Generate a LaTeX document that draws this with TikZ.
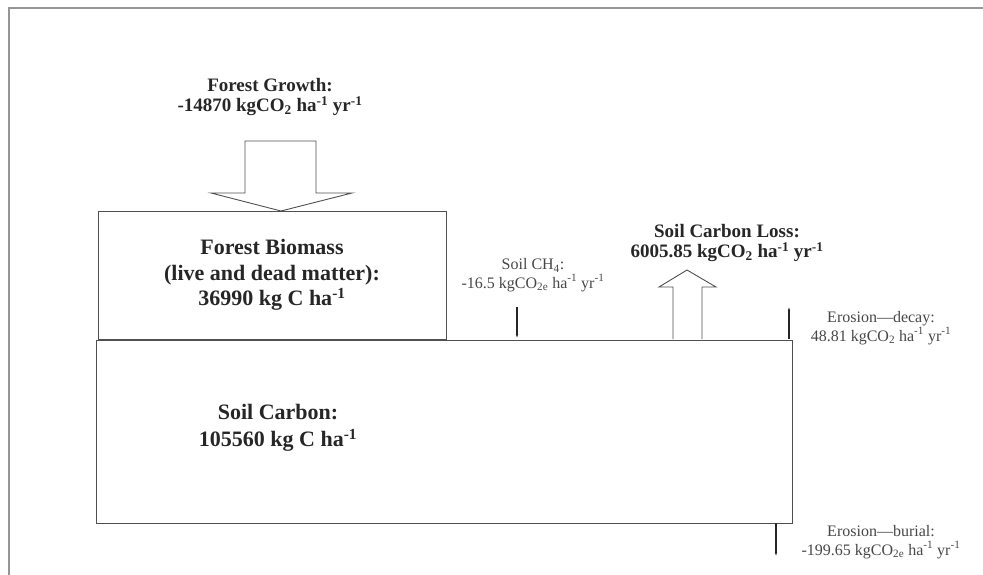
\documentclass[tikz,border=0pt]{standalone}
\usepackage{fontspec}
\setmainfont{Liberation Serif}
\usepackage{tikz}
\usetikzlibrary{positioning,arrows.meta}
\definecolor{Ink}{RGB}{38, 38, 38}
\definecolor{Rule}{RGB}{80, 80, 80}
\definecolor{Frame}{RGB}{150, 150, 150}
\tikzset{
  pool/.style={draw=Rule, line width=0.9pt, inner sep=0pt, text=Ink, align=center},
  bigflux/.style={draw=Rule, line width=0.9pt, fill=white},
  smallflux/.style={draw=Ink, line width=1.1pt, -{Latex[length=6pt,width=2.4pt]}},
  boldlabel/.style={text=Ink, align=center, font=\bfseries\fontsize{19}{20}\selectfont},
  thinlabel/.style={text=Ink!85, align=center, font=\fontsize{16}{18.5}\selectfont},
}

\begin{document}
\begin{tikzpicture}[x=1pt, y=-1pt]
\useasboundingbox (0,0) rectangle (983,575);
\draw[Frame, line width=1.2pt] (9,575) -- (9,8) -- (983,8);

% pools
\node[pool, minimum width=348pt, minimum height=128pt,
      font=\bfseries\fontsize{22}{25.5}\selectfont] (biomass) at (272,275)
  {Forest Biomass\\(live and dead matter):\\36990 kg C ha\textsuperscript{-1}};
\node[pool, minimum width=696pt, minimum height=183pt] (soil) at (444,431.5) {};
\node[text=Ink, align=center, font=\bfseries\fontsize{22}{27}\selectfont] (soiltext) at (278,428)
  {Soil Carbon:\\105560 kg C ha\textsuperscript{-1}};

% forest growth
\node[boldlabel] (growth) at (270,97)
  {Forest Growth:\\-14870 kgCO\textsubscript{2} ha\textsuperscript{-1} yr\textsuperscript{-1}};
\draw[bigflux] (245,141) -- (316,141) -- (316,193) -- (352,193) -- (281,211)
  -- (211,193) -- (245,193) -- cycle;

% soil carbon loss
\node[boldlabel] (loss) at (727,243)
  {Soil Carbon Loss:\\6005.85 kgCO\textsubscript{2} ha\textsuperscript{-1} yr\textsuperscript{-1}};
\draw[bigflux] (673,339) -- (673,287) -- (659,287) -- (687,270) -- (716,287)
  -- (702,287) -- (702,339);

% soil CH4
\node[thinlabel] (ch4) at (533,275)
  {Soil CH\textsubscript{4}:\\-16.5 kgCO\textsubscript{2e} ha\textsuperscript{-1} yr\textsuperscript{-1}};
\coordinate (ch4top) at (517,307);
\coordinate (ch4end) at (517,340);
\draw[smallflux] (ch4top) -- (ch4end);

% erosion
\node[thinlabel] (decay) at (881,328)
  {Erosion---decay:\\48.81 kgCO\textsubscript{2} ha\textsuperscript{-1} yr\textsuperscript{-1}};
\coordinate (decayfoot) at (789,339);
\coordinate (decaytop) at (789,305);
\draw[smallflux] (decayfoot) -- (decaytop);

\node[thinlabel] (burial) at (881,542)
  {Erosion---burial:\\-199.65 kgCO\textsubscript{2e} ha\textsuperscript{-1} yr\textsuperscript{-1}};
\coordinate (burialtop) at (776,523);
\coordinate (burialend) at (776,558);
\draw[smallflux] (burialtop) -- (burialend);
\end{tikzpicture}
\end{document}
